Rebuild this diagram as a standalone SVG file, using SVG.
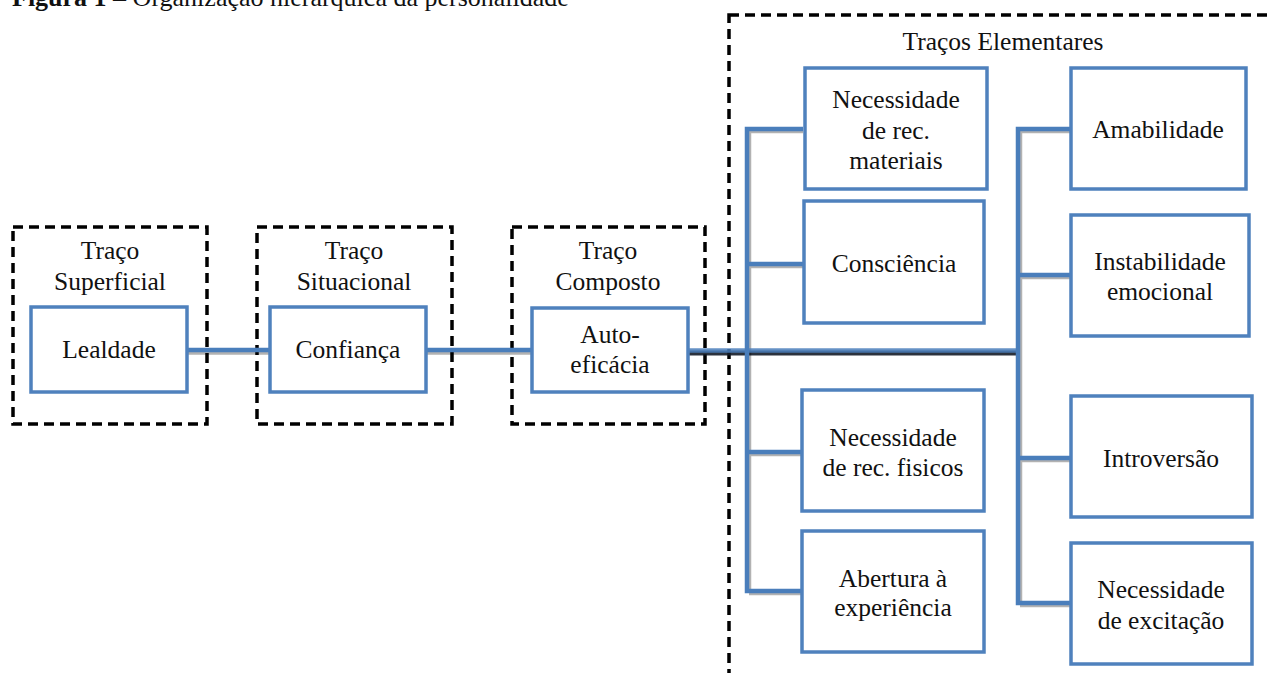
<svg xmlns="http://www.w3.org/2000/svg" width="1269" height="673" viewBox="0 0 1269 673">
<defs>
<style>
.t{font-family:"Liberation Serif","Times New Roman",serif;font-size:25.5px;fill:#111;text-anchor:middle}
.title{font-family:"Liberation Serif","Times New Roman",serif;font-size:26px;fill:#111}
.dash{fill:none;stroke:#000;stroke-width:3.5;stroke-dasharray:10 6}
.box{fill:#fff;stroke:#4f81bd;stroke-width:3.5}
.conn{fill:none;stroke:#4a7ebb;stroke-width:4.5;stroke-linejoin:miter}
.sh{fill:none;stroke:#000;stroke-opacity:0.3;stroke-width:4.5}
.shd{fill:none;stroke:#141c28;stroke-opacity:0.9;stroke-width:5}
</style>
</defs>
<rect width="1269" height="673" fill="#fff"/>
<text class="title" x="12" y="6"><tspan font-weight="bold">Figura 1 –</tspan> Organização hierárquica da personalidade</text>

<g id="dashed-groups">
<rect class="dash" x="13" y="227" width="194" height="197"/>
<rect class="dash" x="257" y="227" width="195" height="197"/>
<rect class="dash" x="512" y="227" width="193" height="197"/>
<rect class="dash" x="729" y="15" width="600" height="700"/>
</g>

<g id="connectors">
<path class="sh" d="M187 352.5H270M426 352.5H531"/>
<path class="conn" d="M187 350H270M426 350H531"/>
<path class="shd" d="M688 353H1019"/>
<path class="sh" d="M749 131V593M749 131H803M749 266H803M749 454H802M749 593H802"/>
<path class="sh" d="M1020 131V605M1020 131H1071M1020 277H1071M1020 460H1071M1020 605H1071"/>
<path class="conn" d="M803 129H747V591H802M747 264H803M747 452H802"/>
<path class="conn" d="M1071 129H1018V603H1071M1018 275H1071M1018 458H1071"/>
<path class="conn" d="M688 350.5H1018" stroke-opacity="0.85"/>
</g>

<g id="group-labels">
<text class="t" x="110" y="259">Traço</text>
<text class="t" x="110" y="290">Superficial</text>
<text class="t" x="354" y="259">Traço</text>
<text class="t" x="354" y="290">Situacional</text>
<text class="t" x="608" y="259">Traço</text>
<text class="t" x="608" y="290">Composto</text>
<text class="t" x="1003" y="50">Traços Elementares</text>
</g>

<g id="lealdade"><rect class="box" x="31" y="307" width="156" height="85"/><text class="t" x="109" y="358">Lealdade</text></g>
<g id="confianca"><rect class="box" x="270" y="307" width="156" height="85"/><text class="t" x="348" y="358">Confiança</text></g>
<g id="autoeficacia"><rect class="box" x="532" y="308" width="156" height="84"/><text class="t" x="610" y="343">Auto-</text><text class="t" x="610" y="373">eficácia</text></g>

<g id="nec-materiais"><rect class="box" x="805" y="68" width="182" height="121"/><text class="t" x="896" y="108">Necessidade</text><text class="t" x="896" y="139">de rec.</text><text class="t" x="896" y="169">materiais</text></g>
<g id="consciencia"><rect class="box" x="804" y="201" width="180" height="122"/><text class="t" x="894" y="272">Consciência</text></g>
<g id="nec-fisicos"><rect class="box" x="802" y="390" width="182" height="121"/><text class="t" x="893" y="446">Necessidade</text><text class="t" x="893" y="476">de rec. fisicos</text></g>
<g id="abertura"><rect class="box" x="802" y="531" width="182" height="121"/><text class="t" x="893" y="587">Abertura à</text><text class="t" x="893" y="616">experiência</text></g>

<g id="amabilidade"><rect class="box" x="1071" y="68" width="175" height="121"/><text class="t" x="1158" y="138">Amabilidade</text></g>
<g id="instabilidade"><rect class="box" x="1071" y="215" width="178" height="121"/><text class="t" x="1160" y="270">Instabilidade</text><text class="t" x="1160" y="300">emocional</text></g>
<g id="introversao"><rect class="box" x="1071" y="396" width="181" height="121"/><text class="t" x="1161" y="467">Introversão</text></g>
<g id="nec-excitacao"><rect class="box" x="1071" y="543" width="181" height="121"/><text class="t" x="1161" y="598">Necessidade</text><text class="t" x="1161" y="629">de excitação</text></g>
</svg>
